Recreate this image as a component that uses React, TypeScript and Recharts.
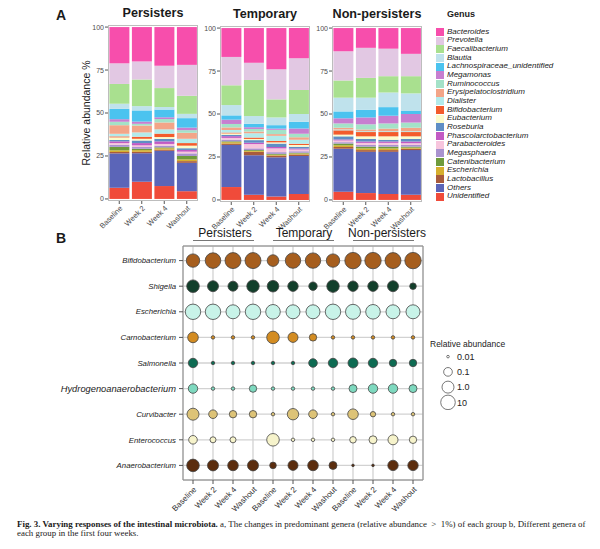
import React from "react";
import {
  Bar, BarChart, CartesianGrid, ReferenceArea, Scatter, ScatterChart, XAxis, YAxis, ZAxis,
} from "recharts";

const SANS = "'Liberation Sans', Arial, sans-serif";
const SERIF = "'Liberation Serif', 'Times New Roman', serif";

const TIMEPOINTS = ["Baseline", "Week 2", "Week 4", "Washout"];
const GROUPS = ["Persisters", "Temporary", "Non-persisters"];

// stack order, bottom to top
const GENERA = [
  "Unidentified", "Others", "Lactobacillus", "Escherichia", "Catenibacterium", "Megasphaera",
  "Parabacteroides", "Phascolarctobacterium", "Roseburia", "Eubacterium", "Bifidobacterium",
  "Dialister", "Erysipelatoclostridium", "Ruminococcus", "Megamonas", "Lachnospiraceae_unidentified",
  "Blautia", "Faecalibacterium", "Prevotella", "Bacteroides",
];
const COLORS = [
  "#f04b3a", "#5b65b8", "#a85b3c", "#d6af2e", "#6e9b3c", "#a993cf",
  "#f7c5dd", "#c25ac4", "#5f8ec5", "#fbfbcb", "#f35b2c",
  "#b3ebeb", "#f3a588", "#a4e2c8", "#c77fd0", "#4bc3ef",
  "#bfe2ec", "#a9e08f", "#e2c8e3", "#f74eac",
];

// % per genus (GENERA order), one row per time point
const PERSISTERS = [
  [6.5, 20, 0.8, 1, 2, 1.2, 1, 1, 0.8, 1.5, 0.6, 1.5, 5, 2, 1.5, 6, 3, 11.5, 12, 21.1],
  [10, 16.6, 0.8, 1, 0.8, 1, 1, 1.3, 1.5, 1, 1.2, 2.5, 4, 1, 1.3, 6.5, 2.5, 15.5, 10.5, 20],
  [7.5, 20.5, 0.7, 0.8, 0.5, 1, 1, 1.5, 1.5, 1, 2, 2.5, 4, 2, 1, 4.5, 1.5, 11, 13, 22.5],
  [4.5, 16.5, 1, 1, 2, 1.5, 1, 1, 1, 1.5, 1.5, 2.5, 3.5, 1.5, 1.5, 5.5, 2.5, 10.5, 18, 22],
];
const TEMPORARY = [
  [7.5, 24.5, 0.8, 0.8, 0.5, 1, 1, 1, 0.8, 0.8, 0.5, 1.5, 1.5, 2, 2.5, 2.5, 6, 11.5, 16.5, 16.8],
  [3, 23, 2, 0.5, 0.5, 1, 2.5, 0.8, 1.5, 0.7, 0.8, 2.5, 1, 1.5, 1, 2, 4.5, 21, 10, 20.2],
  [2, 22.8, 1, 0.5, 0.5, 1, 2.2, 0.8, 2, 0.7, 0.8, 3, 1, 2.5, 0.7, 2, 4.5, 10.5, 17.5, 24],
  [3.5, 22, 1, 0.5, 0.5, 0.8, 1, 0.7, 1, 1, 0.7, 2.3, 1.5, 2, 3, 4, 4.5, 14, 18.5, 17.5],
];
const NON_PERSISTERS = [
  [4.8, 25, 1, 1, 1, 0.8, 1, 0.6, 1.8, 1, 2.5, 0.5, 1, 2.5, 3, 4, 8, 10, 17, 13.5],
  [4, 24, 1, 1, 1, 1, 1.2, 0.8, 1.5, 1.5, 2.5, 0.5, 1, 3, 4, 4.5, 7, 11.5, 17.5, 11.5],
  [3.5, 24.5, 1, 1, 1, 1, 1.2, 0.8, 1, 2, 2.5, 0.5, 1.5, 3, 4.5, 5, 8.5, 9.5, 16, 12],
  [3, 26, 0.8, 0.6, 0.6, 1, 1, 1, 1.5, 1.5, 2.5, 0.5, 2, 3, 5, 2, 10, 10, 13, 15],
];

// panel B: rows top to bottom, 12 columns (3 groups x 4 time points)
const BUBBLE_ROWS = [
  "Bifidobacterium", "Shigella", "Escherichia", "Carnobacterium", "Salmonella",
  "Hydrogenoanaerobacterium", "Curvibacter", "Enterococcus", "Anaerobacterium",
];
const BUBBLE_FILLS = [
  "#a65e1e", "#123f2b", "#c8f3e8", "#d38c22", "#0d6b52", "#7ed9bf", "#ddc377", "#f6f3cb", "#5b2d0e",
];
const BUBBLE_VALUES: (number | null)[][] = [
  [3.3, 28, 42, 42, 0.75, 23, 23, 3.3, 65, 65, 42, 65],
  [1.6, 0.46, 0.23, 1.4, 0.73, 0.3, 0.085, 1.4, 0.3, 0.3, 0.46, 0.034],
  [23, 23, 5.7, 23, 10, 5.7, 5.7, 23, 15, 10, 5.7, 5.7],
  [0.35, 0.012, 0.012, 0.012, 1.6, 0.23, 0.05, 0.012, 0.012, 0.012, 0.012, 0.012],
  [0.155, 0.012, 0.012, 0.012, 0.012, 0.012, 0.095, 0.155, 0.23, 0.155, 0.05, 0.05],
  [0.155, 0.012, 0.012, 0.05, 0.012, 0.012, 0.012, 0.012, 0.068, 0.155, 0.155, 0.068],
  [1.0, 0.095, 0.05, 0.05, 0.012, 0.62, 0.095, 0.012, 0.35, 0.021, 0.012, 0.012],
  [0.095, 0.027, 0.027, null, 1.6, 0.012, 0.012, 0.012, 0.034, 0.068, 0.23, 0.05],
  [1.6, 0.46, 0.35, 0.46, 0.034, 0.23, 0.35, 0.068, 0.01, 0.01, 0.3, 0.3],
];
const SIZE_BREAKS = [0.01, 0.1, 1, 10];
const SIZE_LABELS = ["0.01", "0.1", "1.0", "10"];

const Z_DOMAIN: [number, number] = [0.01, 100];
const Z_RANGE: [number, number] = [5.3, 221];

const abs: React.CSSProperties = { position: "absolute", whiteSpace: "nowrap", lineHeight: 1 };

function Centered({ cx, cy, size, bold, children }: { cx: number; cy: number; size: number; bold?: boolean; children: React.ReactNode }) {
  return (
    <div style={{ ...abs, left: cx, top: cy, transform: "translate(-50%, -50%)", fontSize: size, fontWeight: bold ? 700 : 400, color: "#1a1a1a" }}>
      {children}
    </div>
  );
}

function StackPanel({ values, left, top }: { values: number[][]; left: number; top: number }) {
  const data = TIMEPOINTS.map((t, i) => {
    const row: Record<string, string | number> = { t };
    GENERA.forEach((g, j) => { row[g] = values[i][j]; });
    return row;
  });
  const tick = { fontSize: 7, fill: "#4d4d4d", fontFamily: SANS };
  return (
    <div style={{ position: "absolute", left, top, width: 145, height: 220 }}>
      <BarChart width={145} height={220} data={data} margin={{ top: 5, right: 7, bottom: 0, left: 0 }} barCategoryGap={1.4}>
        <XAxis dataKey="t" interval={0} angle={-45} textAnchor="end" tickSize={3} tickMargin={1} height={39}
          axisLine={false} stroke="#555" tick={{ ...tick, fontSize: 7.5 }} />
        <YAxis domain={[-1.2, 101.2]} ticks={[0, 25, 50, 75, 100]} allowDataOverflow width={48}
          tickSize={3} tickMargin={1} axisLine={false} stroke="#555" tick={tick} />
        {GENERA.map((g, j) => (
          <Bar key={g} dataKey={g} stackId="s" fill={COLORS[j]} isAnimationActive={false} />
        ))}
      </BarChart>
      <div style={{ position: "absolute", left: 48, top: 5, width: 90, height: 176, border: "1px solid #bdbdbd", boxSizing: "border-box", pointerEvents: "none" }} />
    </div>
  );
}

function RowTick(props: any) {
  const { x, y, payload } = props;
  const name = BUBBLE_ROWS[payload.value];
  const big = name === "Hydrogenoanaerobacterium";
  return (
    <text x={x} y={y} dy={big ? 3.2 : 2.7} textAnchor="end" fontStyle="italic" fontSize={big ? 9.3 : 7.8}
      fill="#222" fontFamily={SANS}>
      {name}
    </text>
  );
}

function BubblePanel() {
  const cols = Array.from({ length: 12 }, (_, i) => i);
  const rows = BUBBLE_ROWS.map((_, i) => i);
  return (
    <div style={{ position: "absolute", left: 60, top: 240 }}>
      <ScatterChart width={370} height={280} margin={{ top: 6, right: 7, bottom: 0, left: 0 }}>
        <CartesianGrid stroke="#d2d2d2" strokeWidth={1.3} />
        <XAxis type="number" dataKey="x" domain={[-0.5, 11.5]} ticks={cols} interval={0}
          tickFormatter={(v) => TIMEPOINTS[v % 4]} angle={-45} textAnchor="end" height={40}
          tickSize={4} tickMargin={2} axisLine={false} stroke="#555"
          tick={{ fontSize: 8, fill: "#333", fontFamily: SANS }} />
        <YAxis type="number" dataKey="y" domain={[-0.57, 8.57]} reversed ticks={rows} interval={0}
          width={123} tickSize={4} tickMargin={3} axisLine={false} stroke="#555" tick={<RowTick />} />
        <ZAxis type="number" dataKey="z" scale="log" domain={Z_DOMAIN} range={Z_RANGE} />
        {BUBBLE_ROWS.map((name, r) => (
          <Scatter key={name} name={name}
            data={BUBBLE_VALUES[r].map((z, c) => ({ x: c, y: r, z })).filter((p) => p.z !== null)}
            fill={BUBBLE_FILLS[r]} stroke="#444" strokeWidth={0.8} isAnimationActive={false} />
        ))}
        <ReferenceArea x1={-0.5} x2={11.5} y1={-0.57} y2={8.57} fill="none" stroke="#8c8c8c" strokeWidth={1} />
      </ScatterChart>
    </div>
  );
}

function SizeLegend() {
  const data = SIZE_BREAKS.map((z, i) => ({ x: 0, y: i, z }));
  return (
    <div style={{ position: "absolute", left: 439, top: 349 }}>
      <ScatterChart width={68} height={61} margin={{ top: 0, right: 0, bottom: 0, left: 0 }}>
        <XAxis type="number" dataKey="x" domain={[-1, 1]} hide />
        <YAxis type="number" dataKey="y" domain={[-0.5, 3.5]} reversed orientation="right" ticks={[0, 1, 2, 3]}
          interval={0} tickFormatter={(v) => SIZE_LABELS[v]} width={50} tickSize={0} tickMargin={0}
          axisLine={false} tickLine={false} tick={{ fontSize: 9, fill: "#222", fontFamily: SANS, textAnchor: "start" }} />
        <ZAxis type="number" dataKey="z" scale="log" domain={Z_DOMAIN} range={Z_RANGE} />
        <Scatter data={data} fill="#ffffff" stroke="#555" strokeWidth={0.8} isAnimationActive={false} />
      </ScatterChart>
    </div>
  );
}

export default function App() {
  const legend = GENERA.map((g, j) => ({ g, c: COLORS[j] })).reverse();
  return (
    <div style={{ position: "absolute", left: 0, top: 0, width: 600, height: 549, background: "#fff", fontFamily: SANS, overflow: "hidden" }}>
      <Centered cx={61} cy={15} size={14} bold>A</Centered>
      <Centered cx={153} cy={13} size={12.6} bold>{GROUPS[0]}</Centered>
      <Centered cx={265} cy={13.5} size={12.6} bold>{GROUPS[1]}</Centered>
      <Centered cx={377} cy={13.5} size={12.6} bold>{GROUPS[2]}</Centered>
      <div style={{ ...abs, left: 86, top: 113, fontSize: 10.5, color: "#222", transform: "translate(-50%, -50%) rotate(-90deg)" }}>
        Relative abundance %
      </div>

      <StackPanel values={PERSISTERS} left={60} top={20} />
      <StackPanel values={TEMPORARY} left={172} top={21} />
      <StackPanel values={NON_PERSISTERS} left={284} top={20.5} />

      <div style={{ ...abs, left: 447, top: 10, fontSize: 9, fontWeight: 700, color: "#222" }}>Genus</div>
      {legend.map((it, i) => (
        <React.Fragment key={it.g}>
          <div style={{ position: "absolute", left: 435.5, top: 32 + i * 8.67 - 4, width: 8, height: 8, background: it.c }} />
          <div style={{ ...abs, left: 447, top: 32 + i * 8.67 - 4.3, fontSize: 8, fontStyle: "italic", color: "#222" }}>{it.g}</div>
        </React.Fragment>
      ))}

      <Centered cx={61} cy={238} size={14} bold>B</Centered>
      {[
        { cx: 225, l: 193 },
        { cx: 304, l: 273 },
        { cx: 387, l: 353 },
      ].map((h, i) => (
        <React.Fragment key={GROUPS[i]}>
          <Centered cx={h.cx} cy={233} size={12}>{GROUPS[i]}</Centered>
          <div style={{ position: "absolute", left: h.l, top: 240, width: 61, height: 1.3, background: "#777" }} />
        </React.Fragment>
      ))}
      <BubblePanel />
      <div style={{ ...abs, left: 430, top: 340, fontSize: 8.5, color: "#222" }}>Relative abundance</div>
      <SizeLegend />

      <div style={{ ...abs, left: 17, top: 520, fontFamily: SERIF, fontSize: 8.9, color: "#1a1a1a", lineHeight: "9px" }}>
        <b>Fig. 3. Varying responses of the intestinal microbiota.</b> a, The changes in predominant genera (relative abundance&nbsp; &gt; &nbsp;1%) of each group b, Different genera of
        <br />
        each group in the first four weeks.
      </div>
    </div>
  );
}
